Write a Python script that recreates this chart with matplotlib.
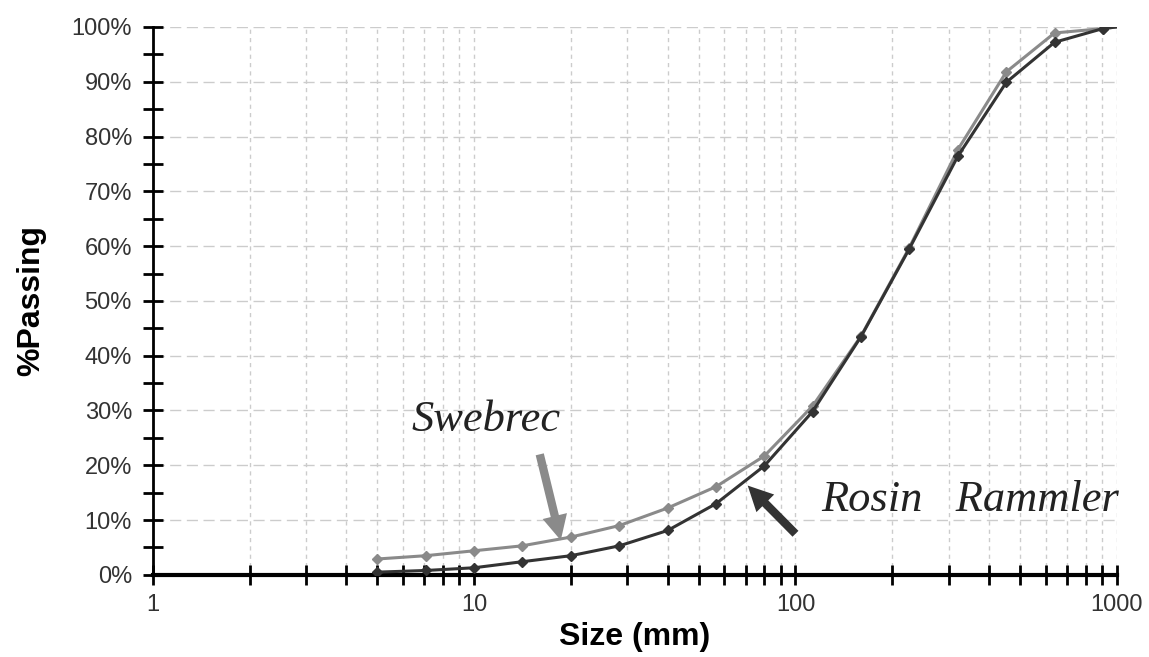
import matplotlib
matplotlib.use('Agg')
import matplotlib.pyplot as plt
from matplotlib.ticker import FixedLocator, FixedFormatter, PercentFormatter, NullFormatter

# sieve sizes (mm) and % passing
size_mm = [5, 7.07, 10, 14.1, 20, 28.3, 40, 56.6, 80, 113, 160, 226, 320, 453, 640, 905, 1000]
swebrec = [2.9, 3.5, 4.4, 5.3, 6.9, 9.0, 12.2, 16.1, 21.7, 30.8, 43.6, 59.7, 77.6, 91.8, 98.9, 99.7, 100.0]
rosin_rammler = [0.5, 0.8, 1.3, 2.4, 3.5, 5.3, 8.1, 13.0, 19.9, 29.8, 43.5, 59.5, 76.4, 89.9, 97.2, 99.7, 100.0]
x_ticks = [1, 10, 100, 1000]
x_tick_labels = ['1', '10', '100', '1000']

plt.rcParams['font.family'] = ['Liberation Sans', 'DejaVu Sans']

fig = plt.figure(figsize=(11.49, 6.57), dpi=100)
ax = fig.add_axes([0.133, 0.125, 0.839, 0.834])

marks = list(range(len(size_mm) - 1))
ax.plot(size_mm, swebrec, color='#8a8a8a', lw=2.2, marker='D', ms=5, markevery=marks, zorder=3)
ax.plot(size_mm, rosin_rammler, color='#333333', lw=2.2, marker='D', ms=5, markevery=marks, zorder=4)

ax.set_xscale('log')
ax.set_xlim(1, 1000)
ax.set_ylim(0, 100)
ax.xaxis.set_major_locator(FixedLocator(x_ticks))
ax.xaxis.set_major_formatter(FixedFormatter(x_tick_labels))
ax.xaxis.set_minor_formatter(NullFormatter())
ax.yaxis.set_major_locator(FixedLocator(range(0, 101, 10)))
ax.yaxis.set_minor_locator(FixedLocator(range(5, 100, 10)))
ax.yaxis.set_major_formatter(PercentFormatter(decimals=0))

ax.grid(True, which='major', axis='y', color='#cccccc', ls=(0, (8, 4)), lw=1)
ax.grid(True, which='both', axis='x', color='#cccccc', ls=(0, (3, 3)), lw=1)

for s in ['top', 'right']:
    ax.spines[s].set_visible(False)
ax.spines['left'].set_linewidth(2)
ax.spines['bottom'].set_linewidth(3)
ax.tick_params(which='both', direction='inout', length=14, width=2, colors='black')
ax.tick_params(axis='both', labelsize=17, labelcolor='#333333', pad=8)
ax.tick_params(axis='x', pad=7)

ax.set_xlabel('Size (mm)', fontsize=23, fontweight='bold', labelpad=4)
ax.set_ylabel('%Passing', fontsize=23, fontweight='bold', labelpad=18)

ax.text(10.9, 28.3, 'Swebrec', family='Liberation Serif', style='italic', fontsize=32, ha='center', va='center', color='#222222')
ax.text(349, 13.7, 'Rosin   Rammler', family='Liberation Serif', style='italic', fontsize=32, ha='center', va='center', color='#222222')
ax.annotate('', xy=(18.6, 6.3), xytext=(16.0, 22), arrowprops=dict(color='#8a8a8a', width=6, headwidth=18, headlength=18, lw=0))
ax.annotate('', xy=(71, 16.3), xytext=(100, 7.5), arrowprops=dict(color='#333333', width=6, headwidth=18, headlength=18, lw=0))

fig.savefig('out.png', dpi=100)
